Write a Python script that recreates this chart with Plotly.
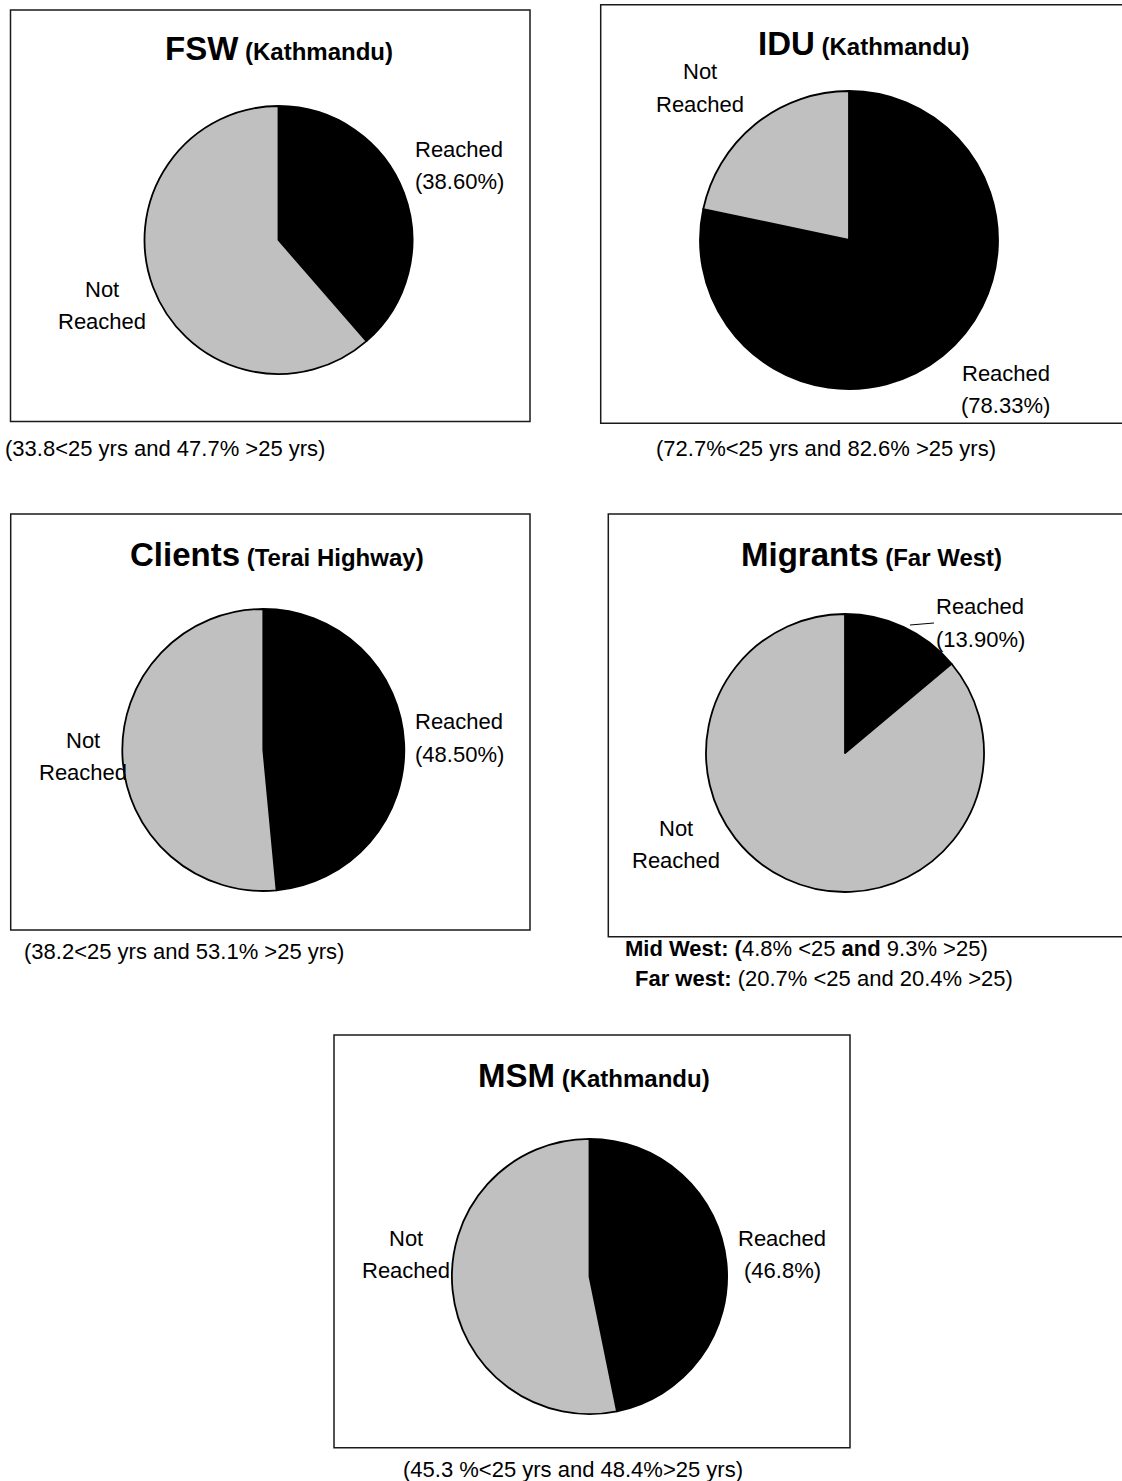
import plotly.graph_objects as go

# ---- data -----------------------------------------------------------------
groups = ["FSW", "IDU", "Clients", "Migrants", "MSM"]
places = ["Kathmandu", "Kathmandu", "Terai Highway", "Far West", "Kathmandu"]
reached_pct = [38.60, 78.33, 48.50, 13.90, 46.8]
pct_decimals = [2, 2, 2, 2, 1]
slice_names = ["Reached", "Not Reached"]
captions = [
    ["(33.8&lt;25 yrs and 47.7% &gt;25 yrs)"],
    ["(72.7%&lt;25 yrs and 82.6% &gt;25 yrs)"],
    ["(38.2&lt;25 yrs and 53.1% &gt;25 yrs)"],
    ["<b>Mid West: (</b>4.8% &lt;25 <b>and</b> 9.3% &gt;25)",
     "<b>Far west:</b> (20.7% &lt;25 and 20.4% &gt;25)"],
    ["(45.3 %&lt;25 yrs and 48.4%&gt;25 yrs)"],
]

# ---- page geometry (pixels) ----------------------------------------------
W, H = 1122, 1481
FONT = "Arial, 'Liberation Sans', sans-serif"
LINE = 32.5  # spacing between stacked label lines

panels = [
    dict(box=(10.5, 10, 530, 421.5), pie=(278.5, 240, 134), title=(278.5, 49),
         reached=(459, 149, "center"), notreached=(102, 289, "center"),
         caption=[(164.5, 448, "center")]),
    dict(box=(600.7, 4.7, 1126, 423.3), pie=(849, 240, 149), title=(863.7, 44),
         reached=(1005.5, 373.3, "center"), notreached=(699.5, 71.7, "center"),
         caption=[(825.5, 448, "center")]),
    dict(box=(10.7, 514, 530, 930), pie=(263.3, 750, 141), title=(277, 554),
         reached=(459, 722, "center"), notreached=(83, 740, "center"),
         caption=[(183.5, 951, "center")]),
    dict(box=(608.3, 514, 1126, 936.7), pie=(845, 753, 139), title=(871, 554),
         reached=(980, 606.7, "center"), notreached=(676, 828.3, "center"),
         caption=[(623.3, 948, "left"), (632.7, 978, "left")],
         leader=((910, 625), (934, 623))),
    dict(box=(334, 1035, 850, 1447.7), pie=(589.5, 1276.5, 137.6), title=(594, 1075),
         reached=(782, 1238, "center"), notreached=(406, 1238, "center"),
         caption=[(572.5, 1469, "center")]),
]


def fx(x):
    return x / W


def fy(y):
    return 1 - y / H


fig = go.Figure()
annotations = []
shapes = []


def add_text(x, y, text, size=22, anchor="center"):
    annotations.append(dict(
        x=fx(x), y=fy(y), xref="paper", yref="paper", text=text,
        showarrow=False, xanchor=anchor, yanchor="middle",
        font=dict(family=FONT, size=size, color="black"),
    ))


for i, p in enumerate(panels):
    reached = reached_pct[i]
    values = [reached, round(100 - reached, 2)]
    cx, cy, r = p["pie"]
    fig.add_trace(go.Pie(
        labels=slice_names,
        values=values,
        sort=False,
        direction="clockwise",
        rotation=0,
        textinfo="none",
        hoverinfo="label+percent",
        marker=dict(colors=["#000000", "#c0c0c0"],
                    line=dict(color="#000000", width=1.8)),
        domain=dict(x=[fx(cx - r), fx(cx + r)], y=[fy(cy + r), fy(cy - r)]),
        showlegend=False,
    ))

    # chart frame
    x0, y0, x1, y1 = p["box"]
    shapes.append(dict(type="rect", xref="paper", yref="paper",
                       x0=fx(x0), x1=fx(x1), y0=fy(y1), y1=fy(y0),
                       line=dict(color="#1a1a1a", width=1.5),
                       fillcolor="rgba(0,0,0,0)", layer="below"))

    # title: group in large bold, place in smaller bold
    tx, ty = p["title"]
    add_text(tx, ty,
             f"<b><span style='font-size:33px'>{groups[i]}</span> "
             f"<span style='font-size:24px'>({places[i]})</span></b>", size=24)

    # slice labels
    rx, ry, ra = p["reached"]
    add_text(rx, ry, slice_names[0], anchor=ra)
    add_text(rx, ry + LINE, f"({reached:.{pct_decimals[i]}f}%)", anchor=ra)
    nx, ny, na = p["notreached"]
    add_text(nx, ny, "Not", anchor=na)
    add_text(nx, ny + LINE, "Reached", anchor=na)

    if "leader" in p:
        (lx0, ly0), (lx1, ly1) = p["leader"]
        shapes.append(dict(type="line", xref="paper", yref="paper",
                           x0=fx(lx0), y0=fy(ly0), x1=fx(lx1), y1=fy(ly1),
                           line=dict(color="black", width=1)))

    # age breakdown note under each chart
    for text, (cx_, cy_, anc) in zip(captions[i], p["caption"]):
        add_text(cx_, cy_, text, anchor=anc)

fig.update_layout(
    width=W, height=H,
    margin=dict(l=0, r=0, t=0, b=0),
    paper_bgcolor="white", plot_bgcolor="white",
    annotations=annotations, shapes=shapes,
    showlegend=False,
)

fig.write_html("out.html")
